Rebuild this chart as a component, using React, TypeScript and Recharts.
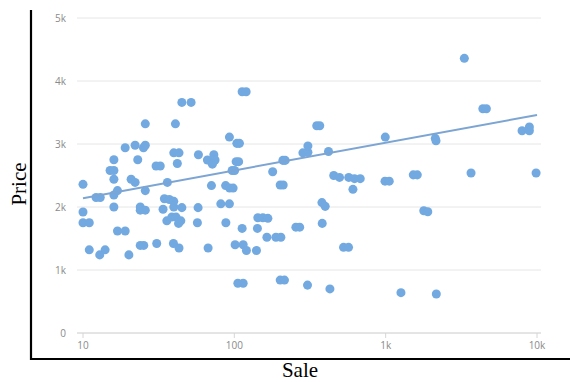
import React from "react";
import { ScatterChart, Scatter, XAxis, YAxis, ZAxis, CartesianGrid } from "recharts";

// sale (log axis) and price pairs
const sales = [
  10, 10, 10, 11, 11, 12.2, 13, 12.9, 14, 15.1, 16, 16, 16, 16, 16.9, 16, 16.9, 19, 20.1, 19,
  22.1, 25.1, 25.8, 25.8, 23, 20.8, 22.1, 25.8, 23.9, 23.9, 25.8, 23.9, 25.2, 30.4, 32.4, 30.7,
  33.8, 34.5, 37.2, 39.8, 36.1, 35.8, 38.6, 41.2, 39.8, 45, 44.3, 42.8, 39.6, 43.1, 39.8, 43.1,
  42, 40.8, 45, 51.8, 57.9, 57.6, 57, 67.1, 66.4, 73.2, 74.6, 71.6, 70.6, 87.6, 93.1, 98.2,
  81.4, 92.8, 87.9, 92.8, 96.7, 100.5, 103.9, 108.1, 102.8, 106.8, 112.6, 119.7, 101.2, 114.4,
  120.2, 140, 112.6, 142.1, 143, 154.3, 166.6, 164.1, 188.2, 203, 105.5, 114.4, 179.2, 200.9,
  210.3, 209.3, 216.8, 200.9, 214.4, 255.1, 270.3, 283.8, 306.3, 306.3, 304.5, 350.3, 366.7,
  379.2, 398.6, 380.9, 419.1, 428.2, 453.7, 495.6, 526.7, 568.4, 570.2, 622.8, 679.2, 607.7,
  994, 990, 1056, 1262, 1522, 1618, 1786, 1898, 2128, 2151, 2161, 3310, 4387, 4628, 3666,
  7966, 8905, 8905, 9862,
];
const prices = [
  2360, 1920, 1750, 1750, 1320, 2150, 2150, 1240, 1320, 2580, 2580, 2750, 2440, 2190, 2260, 2000,
  1620, 1620, 1240, 2940, 2980, 2940, 2980, 3320, 2750, 2440, 2390, 2260, 2000, 1950, 1950, 1390,
  1390, 2650, 2650, 1420, 1965, 2130, 2120, 2090, 2390, 1780, 1840, 1840, 2000, 1990, 1780, 1740,
  1420, 1350, 2860, 2860, 2690, 3320, 3660, 3660, 2830, 1990, 1750, 1350, 2745, 2830, 2745, 2680,
  2340, 2340, 2300, 2300, 2050, 2050, 1750, 3110, 2580, 2580, 3010, 3010, 2720, 2720, 3830, 3830,
  1400, 1400, 1310, 1310, 1660, 1660, 1830, 1830, 1820, 1520, 1520, 1520, 790, 790, 2560, 2350,
  2350, 2740, 2740, 840, 840, 1680, 1680, 2860, 2870, 2970, 760, 3290, 3290, 2070, 2010, 1740,
  2880, 700, 2500, 2470, 1360, 1360, 2470, 2450, 2450, 2280, 3110, 2410, 2410, 640, 2510, 2510,
  1940, 1925, 3090, 3050, 620, 4360, 3560, 3560, 2540, 3210, 3270, 3210, 2540,
];

// trend line end points
const trendSales = [10, 10000];
const trendPrices = [2140, 3460];

const xTicks = [10, 100, 1000, 10000];
const yTicks = [0, 1000, 2000, 3000, 4000, 5000];

const points = sales.map((s, i) => ({ sale: s, price: prices[i] }));
const trend = trendSales.map((s, i) => ({ sale: s, price: trendPrices[i] }));

const fmt = (v: number) => (v >= 1000 ? `${v / 1000}k` : String(v));

const tickStyle = { fill: "#8a8a8a", fontSize: 10, fontFamily: "Open Sans" };

export default function App() {
  return (
    <div style={{ position: "absolute", left: 0, top: 0, width: 570, height: 382, background: "#fff" }}>
      <ScatterChart width={570} height={382} margin={{ top: 18, right: 29, bottom: 19, left: 31 }}>
        <CartesianGrid vertical={false} stroke="#e6e6e6" />
        <XAxis
          type="number"
          dataKey="sale"
          scale="log"
          domain={[10, 10000]}
          ticks={xTicks}
          tickFormatter={fmt}
          height={30}
          padding={{ left: 6, right: 4 }}
          stroke="#d6d6d6"
          tickSize={5}
          tickMargin={4}
          tick={tickStyle}
        />
        <YAxis
          type="number"
          dataKey="price"
          domain={[0, 5000]}
          ticks={yTicks}
          tickFormatter={fmt}
          width={46}
          axisLine={false}
          tickLine={false}
          tickMargin={5}
          tick={tickStyle}
        />
        <ZAxis range={[52, 52]} />
        <Scatter data={points} fill="#72a9e1" isAnimationActive={false} />
        <Scatter
          data={trend}
          line={{ stroke: "#7ca5d3", strokeWidth: 2 }}
          shape={() => <g />}
          isAnimationActive={false}
        />
      </ScatterChart>
      <svg width={570} height={382} style={{ position: "absolute", left: 0, top: 0, pointerEvents: "none" }}>
        <line x1={31} y1={10} x2={31} y2={360} stroke="#000" strokeWidth={2.2} />
        <line x1={30} y1={359} x2={570} y2={359} stroke="#000" strokeWidth={2.2} />
        <text x={300} y={377} textAnchor="middle" fontFamily="Liberation Serif" fontSize={21}>
          Sale
        </text>
        <text
          transform="translate(26,184) rotate(-90)"
          textAnchor="middle"
          fontFamily="Liberation Serif"
          fontSize={21}
        >
          Price
        </text>
      </svg>
    </div>
  );
}
